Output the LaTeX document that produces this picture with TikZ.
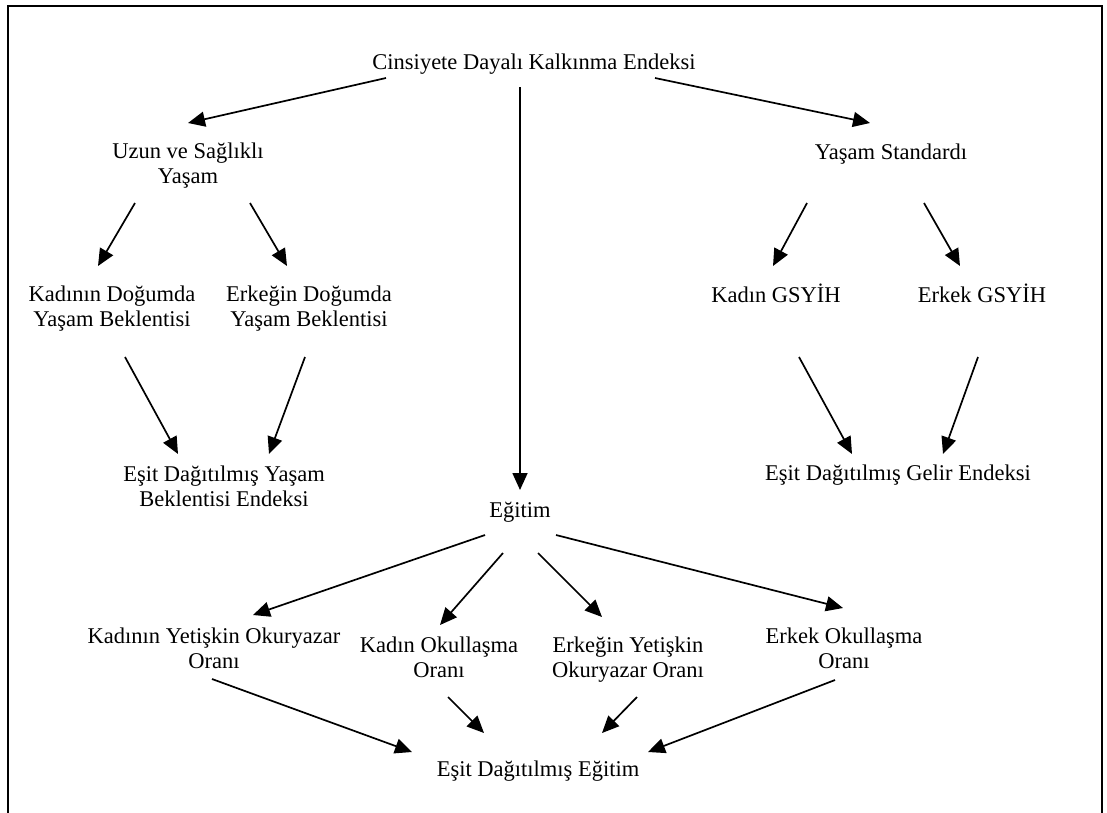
\documentclass[tikz,border=0pt]{standalone}
\usepackage{fontspec}
\setmainfont{Liberation Serif}
\usetikzlibrary{arrows.meta,calc}
\newcommand{\twoline}[2]{\begin{tabular}[t]{@{}c@{}}#1\\#2\end{tabular}}
\begin{document}
\begin{tikzpicture}[x=1pt,y=-1pt,
  lbl/.style={inner sep=0pt, anchor=base, font=\fontsize{22.5}{25.9}\selectfont},
  arr/.style={line width=1.7pt, -{Triangle[length=17pt,width=15pt]}},
  frame/.style={line width=1.8pt}]
\useasboundingbox (0,0) rectangle (1107,812);
\begin{scope}
\clip (0,0) rectangle (1107,812);
\draw[frame] (8,6) rectangle (1102,830);
\end{scope}

\node[lbl] (top) at (534,69) {Cinsiyete Dayalı Kalkınma Endeksi};
\node[lbl] (uzun) at (188,158) {\twoline{Uzun ve Sağlıklı}{Yaşam}};
\node[lbl] (ys) at (891,159) {Yaşam Standardı};
\node[lbl] (kdog) at (112,301) {\twoline{Kadının Doğumda}{Yaşam Beklentisi}};
\node[lbl] (edog) at (309,301) {\twoline{Erkeğin Doğumda}{Yaşam Beklentisi}};
\node[lbl] (kgs) at (776,302) {Kadın GSYİH};
\node[lbl] (egs) at (982,302) {Erkek GSYİH};
\node[lbl] (edy) at (224,481) {\twoline{Eşit Dağıtılmış Yaşam}{Beklentisi Endeksi}};
\node[lbl] (edg) at (898,480) {Eşit Dağıtılmış Gelir Endeksi};
\node[lbl] (egitim) at (520,517) {Eğitim};
\node[lbl] (kyet) at (214,643) {\twoline{Kadının Yetişkin Okuryazar}{Oranı}};
\node[lbl] (kokul) at (439,652) {\twoline{Kadın Okullaşma}{Oranı}};
\node[lbl] (eyet) at (628,652) {\twoline{Erkeğin Yetişkin}{Okuryazar Oranı}};
\node[lbl] (eokul) at (844,643) {\twoline{Erkek Okullaşma}{Oranı}};
\node[lbl] (ede) at (538,776) {Eşit Dağıtılmış Eğitim};

\draw[arr] ($(top.base)+(-148,9)$) -- ($(uzun.base)+(0,-35)$);
\draw[arr] ($(top.base)+(121,9)$) -- ($(ys.base)+(-21,-36)$);
\draw[arr] ($(top.base)+(-14,18)$) -- ($(egitim.base)+(0,-27)$);
\draw[arr] ($(uzun.base)+(-53,45)$) -- ($(kdog.base)+(-14,-35)$);
\draw[arr] ($(uzun.base)+(62,45)$) -- ($(edog.base)+(-22,-35)$);
\draw[arr] ($(ys.base)+(-84,44)$) -- ($(kgs.base)+(-3,-36)$);
\draw[arr] ($(ys.base)+(33,44)$) -- ($(egs.base)+(-22,-36)$);
\draw[arr] ($(kdog.base)+(13,56)$) -- ($(edy.base)+(-46,-27)$);
\draw[arr] ($(edog.base)+(-4,56)$) -- ($(edy.base)+(45,-27)$);
\draw[arr] ($(kgs.base)+(23,55)$) -- ($(edg.base)+(-46,-26)$);
\draw[arr] ($(egs.base)+(-4,55)$) -- ($(edg.base)+(45,-26)$);
\draw[arr] ($(egitim.base)+(-35,18)$) -- ($(kyet.base)+(39,-28)$);
\draw[arr] ($(egitim.base)+(-17,36)$) -- ($(kokul.base)+(1,-27)$);
\draw[arr] ($(egitim.base)+(18,36)$) -- ($(eyet.base)+(-26,-35)$);
\draw[arr] ($(egitim.base)+(36,18)$) -- ($(eokul.base)+(-1,-35)$);
\draw[arr] ($(kyet.base)+(-2,36)$) -- ($(ede.base)+(-126,-24)$);
\draw[arr] ($(kokul.base)+(9,45)$) -- ($(ede.base)+(-54,-43)$);
\draw[arr] ($(eyet.base)+(9,45)$) -- ($(ede.base)+(64,-43)$);
\draw[arr] ($(eokul.base)+(-9,37)$) -- ($(ede.base)+(110,-24)$);
\end{tikzpicture}
\end{document}
